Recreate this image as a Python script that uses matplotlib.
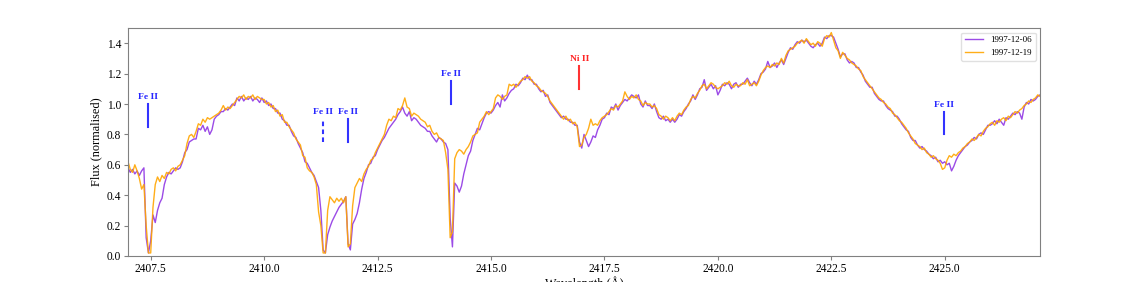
import numpy as np
import matplotlib
matplotlib.use('Agg')
import matplotlib.pyplot as plt

plt.rcParams['font.family'] = 'serif'
plt.rcParams['font.serif'] = ['Liberation Serif', 'DejaVu Serif']

# --- data (grid: 2407.00 .. 2427.10 A, step 0.05) ---
wavelength = np.round(2407.0 + 0.05 * np.arange(403), 2)

flux_0612 = [
    0.58, 0.55, 0.57, 0.54, 0.56, 0.53, 0.56, 0.58, 0.12, 0.02,
    0.10, 0.27, 0.22, 0.30, 0.35, 0.38, 0.47, 0.52, 0.55, 0.54,
    0.56, 0.58, 0.57, 0.58, 0.62, 0.68, 0.70, 0.75, 0.76, 0.77,
    0.77, 0.84, 0.83, 0.86, 0.82, 0.85, 0.80, 0.83, 0.90, 0.92,
    0.93, 0.95, 0.95, 0.97, 0.96, 0.98, 1.00, 0.99, 1.04, 1.02,
    1.05, 1.02, 1.04, 1.03, 1.05, 1.02, 1.04, 1.03, 1.01, 1.04,
    1.01, 1.02, 0.99, 1.00, 0.97, 0.97, 0.94, 0.94, 0.90, 0.89,
    0.86, 0.86, 0.82, 0.79, 0.78, 0.74, 0.71, 0.68, 0.62, 0.61,
    0.58, 0.55, 0.53, 0.49, 0.45, 0.30, 0.04, 0.02, 0.14, 0.19,
    0.23, 0.26, 0.29, 0.32, 0.34, 0.36, 0.39, 0.08, 0.04, 0.21,
    0.24, 0.28, 0.35, 0.44, 0.51, 0.55, 0.60, 0.61, 0.65, 0.66,
    0.70, 0.73, 0.76, 0.78, 0.81, 0.84, 0.86, 0.88, 0.90, 0.93,
    0.95, 0.98, 0.94, 0.92, 0.95, 0.89, 0.91, 0.90, 0.88, 0.86,
    0.85, 0.84, 0.82, 0.82, 0.79, 0.77, 0.75, 0.78, 0.77, 0.75,
    0.74, 0.70, 0.25, 0.06, 0.48, 0.46, 0.42, 0.46, 0.54, 0.60,
    0.66, 0.69, 0.76, 0.80, 0.84, 0.83, 0.87, 0.91, 0.94, 0.95,
    0.94, 0.96, 0.99, 1.01, 0.98, 1.06, 1.02, 1.04, 1.07, 1.09,
    1.10, 1.13, 1.12, 1.14, 1.17, 1.16, 1.19, 1.16, 1.16, 1.13,
    1.13, 1.10, 1.08, 1.09, 1.05, 1.06, 1.01, 0.99, 0.97, 0.95,
    0.93, 0.91, 0.92, 0.90, 0.90, 0.88, 0.88, 0.86, 0.86, 0.75,
    0.71, 0.80, 0.76, 0.72, 0.75, 0.79, 0.78, 0.83, 0.86, 0.90,
    0.91, 0.94, 0.93, 0.98, 0.97, 1.00, 0.96, 0.99, 1.01, 1.03,
    1.02, 1.04, 1.06, 1.05, 1.04, 1.06, 1.00, 0.98, 1.02, 0.99,
    0.99, 0.97, 1.00, 0.95, 0.91, 0.90, 0.92, 0.89, 0.90, 0.88,
    0.90, 0.88, 0.90, 0.93, 0.92, 0.95, 0.97, 1.00, 1.02, 1.06,
    1.03, 1.06, 1.10, 1.11, 1.16, 1.09, 1.11, 1.13, 1.10, 1.12,
    1.06, 1.09, 1.13, 1.12, 1.14, 1.13, 1.10, 1.13, 1.14, 1.11,
    1.13, 1.13, 1.15, 1.17, 1.14, 1.12, 1.15, 1.13, 1.16, 1.20,
    1.21, 1.23, 1.28, 1.24, 1.25, 1.27, 1.24, 1.27, 1.29, 1.26,
    1.30, 1.34, 1.37, 1.36, 1.39, 1.41, 1.40, 1.42, 1.41, 1.42,
    1.40, 1.38, 1.37, 1.39, 1.40, 1.38, 1.40, 1.44, 1.43, 1.45,
    1.45, 1.44, 1.40, 1.36, 1.31, 1.33, 1.33, 1.29, 1.27, 1.28,
    1.27, 1.24, 1.24, 1.21, 1.19, 1.15, 1.13, 1.11, 1.11, 1.07,
    1.05, 1.03, 1.02, 1.02, 0.99, 0.97, 0.96, 0.95, 0.92, 0.92,
    0.90, 0.87, 0.85, 0.83, 0.82, 0.78, 0.76, 0.76, 0.73, 0.71,
    0.72, 0.70, 0.69, 0.67, 0.66, 0.64, 0.65, 0.62, 0.63, 0.61,
    0.62, 0.60, 0.61, 0.56, 0.59, 0.63, 0.66, 0.68, 0.70, 0.72,
    0.73, 0.75, 0.76, 0.78, 0.77, 0.80, 0.81, 0.80, 0.83, 0.86,
    0.86, 0.87, 0.89, 0.87, 0.90, 0.88, 0.86, 0.91, 0.90, 0.92,
    0.94, 0.93, 0.95, 0.94, 0.90, 0.98, 1.01, 1.00, 1.03, 1.02,
    1.03, 1.05, 1.06,
]

flux_1219 = [
    0.62, 0.57, 0.55, 0.60, 0.56, 0.51, 0.44, 0.47, 0.20, 0.02,
    0.02, 0.32, 0.47, 0.52, 0.49, 0.53, 0.51, 0.55, 0.54, 0.57,
    0.58, 0.56, 0.59, 0.60, 0.63, 0.66, 0.74, 0.79, 0.80, 0.78,
    0.82, 0.87, 0.86, 0.90, 0.88, 0.91, 0.90, 0.91, 0.92, 0.93,
    0.94, 0.96, 0.99, 0.96, 0.98, 0.97, 0.99, 1.01, 1.03, 1.05,
    1.04, 1.06, 1.03, 1.05, 1.04, 1.06, 1.03, 1.05, 1.04, 1.03,
    1.03, 1.00, 1.01, 0.98, 0.99, 0.95, 0.96, 0.92, 0.93, 0.88,
    0.88, 0.85, 0.83, 0.81, 0.77, 0.75, 0.73, 0.66, 0.65, 0.58,
    0.56, 0.55, 0.52, 0.47, 0.29, 0.20, 0.02, 0.02, 0.30, 0.39,
    0.37, 0.35, 0.38, 0.36, 0.38, 0.35, 0.39, 0.06, 0.08, 0.33,
    0.45, 0.48, 0.51, 0.49, 0.54, 0.57, 0.59, 0.63, 0.64, 0.68,
    0.71, 0.74, 0.77, 0.80, 0.86, 0.90, 0.89, 0.92, 0.91, 0.97,
    0.96, 0.99, 1.04, 0.98, 0.97, 0.92, 0.94, 0.93, 0.92, 0.90,
    0.89, 0.88, 0.85, 0.86, 0.82, 0.80, 0.81, 0.78, 0.77, 0.76,
    0.68, 0.57, 0.12, 0.16, 0.64, 0.68, 0.70, 0.69, 0.67, 0.70,
    0.72, 0.75, 0.79, 0.80, 0.81, 0.88, 0.90, 0.92, 0.95, 0.93,
    0.95, 0.97, 1.04, 1.06, 1.05, 1.03, 1.05, 1.06, 1.13, 1.12,
    1.13, 1.11, 1.13, 1.15, 1.16, 1.18, 1.17, 1.18, 1.15, 1.14,
    1.12, 1.11, 1.09, 1.08, 1.07, 1.05, 1.02, 1.00, 0.98, 0.96,
    0.94, 0.92, 0.90, 0.92, 0.89, 0.90, 0.87, 0.88, 0.85, 0.72,
    0.73, 0.78, 0.80, 0.84, 0.90, 0.86, 0.87, 0.86, 0.89, 0.91,
    0.92, 0.93, 0.95, 0.97, 0.96, 0.99, 0.98, 1.00, 1.02, 1.08,
    1.05, 1.03, 1.05, 1.04, 1.06, 1.03, 1.02, 0.99, 1.01, 1.00,
    1.00, 0.98, 0.99, 0.97, 0.93, 0.92, 0.90, 0.92, 0.91, 0.89,
    0.91, 0.89, 0.92, 0.94, 0.93, 0.96, 0.98, 0.99, 1.03, 1.05,
    1.04, 1.07, 1.09, 1.12, 1.13, 1.10, 1.12, 1.14, 1.13, 1.11,
    1.10, 1.11, 1.12, 1.14, 1.13, 1.15, 1.12, 1.11, 1.13, 1.12,
    1.12, 1.14, 1.13, 1.16, 1.12, 1.13, 1.14, 1.12, 1.15, 1.19,
    1.22, 1.24, 1.25, 1.24, 1.26, 1.25, 1.27, 1.26, 1.30, 1.27,
    1.32, 1.35, 1.36, 1.37, 1.38, 1.40, 1.41, 1.42, 1.40, 1.43,
    1.41, 1.39, 1.40, 1.38, 1.41, 1.40, 1.38, 1.43, 1.45, 1.44,
    1.47, 1.42, 1.37, 1.35, 1.30, 1.34, 1.32, 1.30, 1.29, 1.27,
    1.26, 1.25, 1.23, 1.22, 1.18, 1.16, 1.14, 1.12, 1.10, 1.08,
    1.06, 1.04, 1.03, 1.01, 1.00, 0.98, 0.97, 0.94, 0.93, 0.91,
    0.89, 0.88, 0.86, 0.84, 0.81, 0.79, 0.77, 0.74, 0.73, 0.72,
    0.70, 0.71, 0.68, 0.67, 0.65, 0.66, 0.64, 0.63, 0.61, 0.57,
    0.58, 0.63, 0.66, 0.65, 0.67, 0.66, 0.68, 0.69, 0.71, 0.72,
    0.74, 0.75, 0.77, 0.76, 0.78, 0.80, 0.79, 0.82, 0.84, 0.85,
    0.87, 0.88, 0.86, 0.89, 0.88, 0.90, 0.91, 0.89, 0.92, 0.91,
    0.93, 0.95, 0.94, 0.96, 0.97, 0.99, 1.00, 1.02, 1.01, 1.03,
    1.04, 1.06, 1.05,
]

# line identifications
line_ions = ['Fe II', 'Fe II', 'Fe II', 'Fe II', 'Ni II', 'Fe II']
line_wl = [2407.43, 2411.30, 2411.85, 2414.11, 2416.95, 2424.98]
line_base = [0.85, 0.75, 0.75, 1.00, 1.10, 0.80]
line_dashed = [False, True, False, False, False, False]

fig = plt.figure(figsize=(11.4, 2.82), dpi=100)
ax = fig.add_axes([0.1123, 0.0922, 0.8, 0.8085])

ax.plot(wavelength, flux_0612, color='#8a2be2', lw=1.0, alpha=0.85, label='1997-12-06')
ax.plot(wavelength, flux_1219, color='orange', lw=1.0, alpha=0.9, label='1997-12-19')

for ion, wl, y0, dashed in zip(line_ions, line_wl, line_base, line_dashed):
    col = 'red' if ion.startswith('Ni') else 'blue'
    ax.plot([wl, wl], [y0, y0 + 0.15], color=col, lw=1.5, alpha=0.8,
            ls=(0, (2.2, 1.6)) if dashed else '-')
    ax.text(wl, y0 + 0.17, ion, color=col, fontsize=6.8, fontweight='bold',
            ha='center', va='bottom', alpha=0.85)

ax.set_xlim(wavelength[0], wavelength[-1])
ax.set_ylim(0, 1.5)
ax.set_xticks([2407.5, 2410.0, 2412.5, 2415.0, 2417.5, 2420.0, 2422.5, 2425.0])
ax.set_yticks(np.arange(0, 1.41, 0.2))
ax.tick_params(labelsize=8.3, color='0.5', length=3, pad=2)
for sp in ax.spines.values():
    sp.set_color('0.5')

ax.set_xlabel('Wavelength (Å)', fontsize=8.8, labelpad=1)
ax.set_ylabel('Flux (normalised)', fontsize=8.8, labelpad=3)
ax.legend(loc='upper right', fontsize=6.5, framealpha=0.8, edgecolor='0.85')

fig.savefig('out.png', dpi=100)
